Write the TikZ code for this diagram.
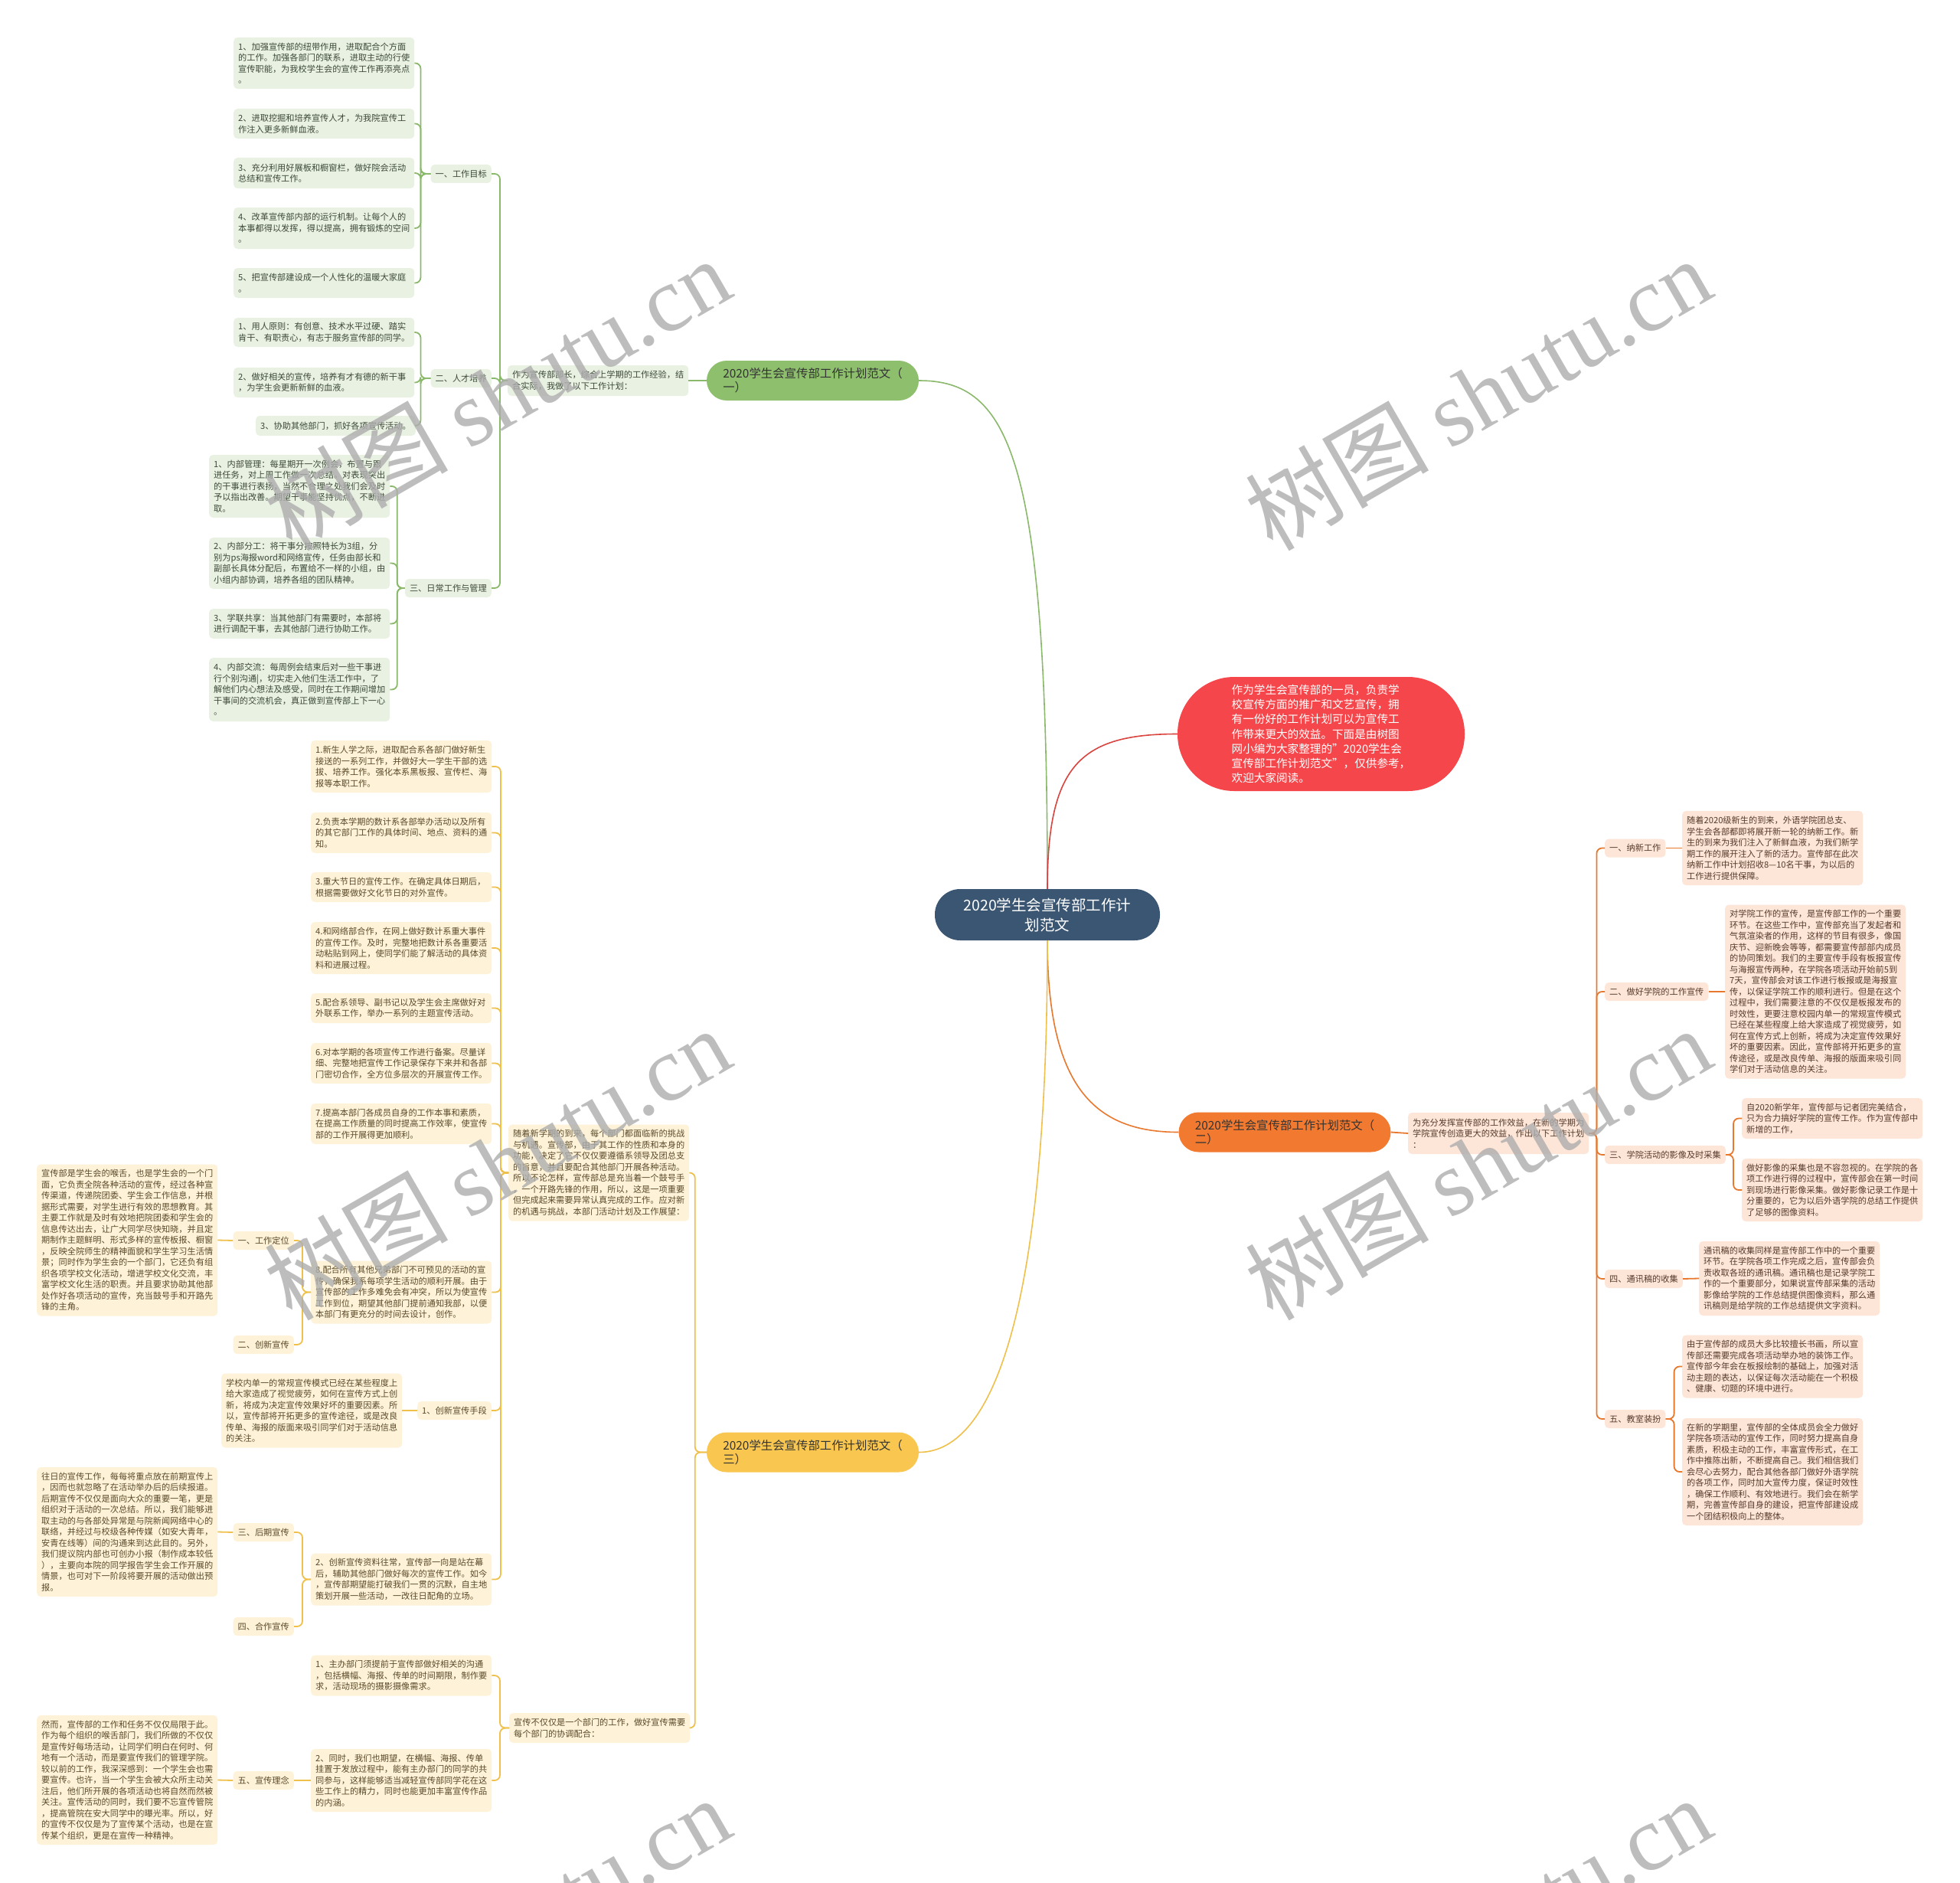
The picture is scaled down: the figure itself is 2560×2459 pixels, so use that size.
\documentclass[tikz,border=0pt]{standalone}
\usepackage{fontspec}
\setmainfont{Noto Sans CJK SC}
\newfontfamily\wmlatin{Liberation Serif}
\usetikzlibrary{calc}
\definecolor{cdark}{HTML}{3B5673}
\definecolor{cgreen}{HTML}{8DBF6D}
\definecolor{cgl}{HTML}{8AB96B}
\definecolor{cgfill}{HTML}{E9F2E2}
\definecolor{cgtext}{HTML}{3D4838}
\definecolor{cred}{HTML}{F5474B}
\definecolor{crl}{HTML}{D9443F}
\definecolor{corange}{HTML}{F27A30}
\definecolor{col}{HTML}{E9782F}
\definecolor{cofill}{HTML}{FDE5D7}
\definecolor{cotext}{HTML}{553B2C}
\definecolor{cyellow}{HTML}{F9C750}
\definecolor{cyl}{HTML}{EFC04A}
\definecolor{cyfill}{HTML}{FEF3D8}
\definecolor{cytext}{HTML}{5A4A2A}
\tikzset{
  box/.style={rounded corners=5pt, inner xsep=6pt, inner ysep=0pt, align=left,
    font=\fontsize{11.2pt}{14.5pt}\selectfont},
  gb/.style={box, fill=cgfill, text=cgtext},
  ob/.style={box, fill=cofill, text=cotext},
  yb/.style={box, fill=cyfill, text=cytext},
  wide/.style={text width=224pt},
  lab/.style={minimum height=24pt},
  pill/.style={rounded corners=26pt, minimum width=277pt, minimum height=52pt,
    align=left, inner sep=0pt, font=\fontsize{15.4pt}{18pt}\selectfont},
  gl/.style={draw=cgl, line width=1.8pt, rounded corners=7pt},
  ol/.style={draw=col, line width=1.8pt, rounded corners=7pt},
  yl/.style={draw=cyl, line width=1.8pt, rounded corners=7pt},
  wm/.style={rotate=30, text=black!32, opacity=0.8, inner sep=0pt,
    font=\fontsize{120pt}{120pt}\selectfont}
}
\begin{document}
\begin{tikzpicture}[x=1pt,y=-1pt]
\useasboundingbox (0,0) rectangle (2560,2459);
\fill[white] (0,0) rectangle (2560,2459);

% ---------- main nodes ----------
\node[fill=cdark, rounded corners=33pt, minimum width=294pt, minimum height=67pt,
  inner sep=0pt, text=white, align=center, font=\fontsize{19.5pt}{26pt}\selectfont]
  (c) at (1368,1194.5) {2020学生会宣传部工作计\\划范文};
\node[pill, fill=cgreen, text=black!80] (G) at (1061.5,497) {2020学生会宣传部工作计划范文（\\一）};
\node[pill, fill=corange, text=black!80] (O) at (1678,1478.5) {2020学生会宣传部工作计划范文（\\二）};
\node[pill, fill=cyellow, text=black!80] (Y) at (1061.5,1896.5) {2020学生会宣传部工作计划范文（\\三）};
\node[fill=cred, rounded corners=74pt, minimum width=375pt, minimum height=149pt,
  inner sep=0pt, text=white, align=left, font=\fontsize{14.6pt}{19.2pt}\selectfont]
  (R) at (1725.5,958.5) {作为学生会宣传部的一员，负责学\\校宣传方面的推广和文艺宣传，拥\\有一份好的工作计划可以为宣传工\\作带来更大的效益。下面是由树图\\网小编为大家整理的"2020学生会\\宣传部工作计划范文"，仅供参考，\\欢迎大家阅读。};

\draw[cgl, line width=1.6pt] (c.north) .. controls (1368,600) and (1320,497) .. (G.east);
\draw[crl, line width=1.6pt] (c.north) .. controls (1368,1000) and (1410,958.5) .. (R.west);
\draw[col, line width=1.6pt] (c.south) .. controls (1368,1420) and (1430,1478.5) .. (O.west);
\draw[cyl, line width=1.6pt] (c.south) .. controls (1368,1700) and (1300,1896.5) .. (Y.east);

% ---------- green subtree ----------
\node[gb, wide, anchor=west, minimum height=40pt] (g0) at (663,497) {作为宣传部部长，综合上学期的工作经验，结\\合实际，我做了以下工作计划：};
\node[gb, lab, anchor=east] (gA) at (642,227) {一、工作目标};
\node[gb, lab, anchor=east] (gB) at (642,494) {二、人才培养};
\node[gb, lab, anchor=east] (gC) at (642,768) {三、日常工作与管理};

\node[gb, wide, anchor=west, minimum height=67pt] (gA1) at (305,82.5) {1、加强宣传部的纽带作用，进取配合个方面\\的工作。加强各部门的联系，进取主动的行使\\宣传职能，为我校学生会的宣传工作再添亮点\\。};
\node[gb, wide, anchor=west, minimum height=39pt] (gA2) at (305,161.5) {2、进取挖掘和培养宣传人才，为我院宣传工\\作注入更多新鲜血液。};
\node[gb, wide, anchor=west, minimum height=40pt] (gA3) at (305,226) {3、充分利用好展板和橱窗栏，做好院会活动\\总结和宣传工作。};
\node[gb, wide, anchor=west, minimum height=54pt] (gA4) at (305,298) {4、改革宣传部内部的运行机制。让每个人的\\本事都得以发挥，得以提高，拥有锻炼的空间\\。};
\node[gb, wide, anchor=west, minimum height=39pt] (gA5) at (305,369.5) {5、把宣传部建设成一个人性化的温暖大家庭\\。};
\node[gb, wide, anchor=west, minimum height=38pt] (gB1) at (305,434) {1、用人原则：有创意、技术水平过硬、踏实\\肯干、有职责心，有志于服务宣传部的同学。};
\node[gb, wide, anchor=west, minimum height=39pt] (gB2) at (305,499.5) {2、做好相关的宣传，培养有才有德的新干事\\，为学生会更新新鲜的血液。};
\node[gb, lab, anchor=east, minimum height=26pt] (gB3) at (543,556) {3、协助其他部门，抓好各项宣传活动。};
\node[gb, wide, anchor=west, minimum height=82pt] (gC1) at (273,635) {1、内部管理：每星期开一次例会，布置与跟\\进任务，对上周工作做一次总结。对表现突出\\的干事进行表扬，当然不合理之处我们会及时\\予以指出改善。期望干事能坚持优点，不断进\\取。};
\node[gb, wide, anchor=west, minimum height=67pt] (gC2) at (273,735.5) {2、内部分工：将干事分按照特长为3组，分\\别为ps海报word和网络宣传，任务由部长和\\副部长具体分配后，布置给不一样的小组，由\\小组内部协调，培养各组的团队精神。};
\node[gb, wide, anchor=west, minimum height=39pt] (gC3) at (273,814.5) {3、学联共享：当其他部门有需要时，本部将\\进行调配干事，去其他部门进行协助工作。};
\node[gb, wide, anchor=west, minimum height=83pt] (gC4) at (273,900.5) {4、内部交流：每周例会结束后对一些干事进\\行个别沟通|，切实走入他们生活工作中，了\\解他们内心想法及感受，同时在工作期间增加\\干事间的交流机会，真正做到宣传部上下一心\\。};

\draw[gl] (G.west) -- (g0.east);
\foreach \k in {gA,gB,gC} \draw[gl] (g0.west) -- ++(-10,0) |- (\k.east);
\foreach \k in {gA1,gA2,gA3,gA4,gA5} \draw[gl] (gA.west) -- ++(-13,0) |- (\k.east);
\foreach \k in {gB1,gB2,gB3} \draw[gl] (gB.west) -- ++(-13,0) |- (\k.east);
\foreach \k in {gC1,gC2,gC3,gC4} \draw[gl] (gC.west) -- ++(-10,0) |- (\k.east);

% ---------- orange subtree ----------
\node[ob, wide, anchor=west, minimum height=54pt] (o0) at (1839,1480) {为充分发挥宣传部的工作效益，在新的学期为\\学院宣传创造更大的效益，作出以下工作计划\\：};
\node[ob, lab, anchor=west] (oA) at (2096,1107.5) {一、纳新工作};
\node[ob, lab, anchor=west] (oB) at (2096,1295) {二、做好学院的工作宣传};
\node[ob, lab, anchor=west] (oC) at (2096,1508) {三、学院活动的影像及时采集};
\node[ob, lab, anchor=west] (oD) at (2096,1670) {四、通讯稿的收集};
\node[ob, lab, anchor=west] (oE) at (2096,1853) {五、教室装扮};

\node[ob, wide, anchor=west, minimum height=97pt] (oAt) at (2197,1107.5) {随着2020级新生的到来，外语学院团总支、\\学生会各部都即将展开新一轮的纳新工作。新\\生的到来为我们注入了新鲜血液，为我们新学\\期工作的展开注入了新的活力。宣传部在此次\\纳新工作中计划招收8—10名干事，为以后的\\工作进行提供保障。};
\node[ob, wide, anchor=west, minimum height=227pt] (oBt) at (2253,1295) {对学院工作的宣传，是宣传部工作的一个重要\\环节。在这些工作中，宣传部充当了发起者和\\气氛渲染者的作用，这样的节目有很多，像国\\庆节、迎新晚会等等，都需要宣传部部内成员\\的协同策划。我们的主要宣传手段有板报宣传\\与海报宣传两种，在学院各项活动开始前5到\\7天，宣传部会对该工作进行板报或是海报宣\\传，以保证学院工作的顺利进行。但是在这个\\过程中，我们需要注意的不仅仅是板报发布的\\时效性，更要注意校园内单一的常规宣传模式\\已经在某些程度上给大家造成了视觉疲劳，如\\何在宣传方式上创新，将成为决定宣传效果好\\坏的重要因素。因此，宣传部将开拓更多的宣\\传途径，或是改良传单、海报的版面来吸引同\\学们对于活动信息的关注。};
\node[ob, wide, anchor=west, minimum height=53pt] (oC1) at (2275,1460.5) {自2020新学年，宣传部与记者团完美结合，\\只为合力搞好学院的宣传工作。作为宣传部中\\新增的工作，};
\node[ob, wide, anchor=west, minimum height=82pt] (oC2) at (2275,1554) {做好影像的采集也是不容忽视的。在学院的各\\项工作进行得的过程中，宣传部会在第一时间\\到现场进行影像采集。做好影像记录工作是十\\分重要的，它为以后外语学院的总结工作提供\\了足够的图像资料。};
\node[ob, wide, anchor=west, minimum height=97pt] (oDt) at (2219,1669.5) {通讯稿的收集同样是宣传部工作中的一个重要\\环节。在学院各项工作完成之后，宣传部会负\\责收取各班的通讯稿。通讯稿也是记录学院工\\作的一个重要部分，如果说宣传部采集的活动\\影像给学院的工作总结提供图像资料，那么通\\讯稿则是给学院的工作总结提供文字资料。};
\node[ob, wide, anchor=west, minimum height=82pt] (oE1) at (2197,1784.5) {由于宣传部的成员大多比较擅长书画，所以宣\\传部还需要完成各项活动举办地的装饰工作。\\宣传部今年会在板报绘制的基础上，加强对活\\动主题的表达，以保证每次活动能在一个积极\\、健康、切题的环境中进行。};
\node[ob, wide, anchor=west, minimum height=140pt] (oE2) at (2197,1922) {在新的学期里，宣传部的全体成员会全力做好\\学院各项活动的宣传工作，同时努力提高自身\\素质，积极主动的工作，丰富宣传形式，在工\\作中推陈出新，不断提高自己。我们相信我们\\会尽心去努力，配合其他各部门做好外语学院\\的各项工作，同时加大宣传力度，保证时效性\\，确保工作顺利、有效地进行。我们会在新学\\期，完善宣传部自身的建设，把宣传部建设成\\一个团结积极向上的整体。};

\draw[ol] (O.east) -- (o0.west);
\foreach \k in {oA,oB,oC,oD,oE} \draw[ol] (o0.east) -- ++(10,0) |- (\k.west);
\draw[ol] (oA.east) -- (oAt.west);
\draw[ol] (oB.east) -- (oBt.west);
\draw[ol] (oD.east) -- (oDt.west);
\foreach \k in {oC1,oC2} \draw[ol] (oC.east) -- ++(10,0) |- (\k.west);
\foreach \k in {oE1,oE2} \draw[ol] (oE.east) -- ++(11,0) |- (\k.west);

% ---------- yellow subtree ----------
\node[yb, wide, anchor=west, minimum height=126pt] (y0) at (664,1531.5) {随着新学期的到来，每个部门都面临新的挑战\\与机遇。宣传部，由于其工作的性质和本身的\\功能，决定了它不仅仅要遵循系领导及团总支\\的旨意，并且要配合其他部门开展各种活动。\\所以不论怎样，宣传部总是充当着一个鼓号手\\，一个开路先锋的作用，所以，这是一项重要\\但完成起来需要异常认真完成的工作。应对新\\的机遇与挑战，本部门活动计划及工作展望：};
\node[yb, wide, anchor=west, minimum height=68pt] (y1) at (406,1001) {1.新生人学之际，进取配合系各部门做好新生\\接送的一系列工作，并做好大一学生干部的选\\拔、培养工作。强化本系黑板报、宣传栏、海\\报等本职工作。};
\node[yb, wide, anchor=west, minimum height=53pt] (y2) at (406,1087.5) {2.负责本学期的数计系各部举办活动以及所有\\的其它部门工作的具体时间、地点、资料的通\\知。};
\node[yb, wide, anchor=west, minimum height=39pt] (y3) at (406,1158.5) {3.重大节日的宣传工作。在确定具体日期后，\\根据需要做好文化节日的对外宣传。};
\node[yb, wide, anchor=west, minimum height=68pt] (y4) at (406,1238) {4.和网络部合作，在网上做好数计系重大事件\\的宣传工作。及时，完整地把数计系各重要活\\动粘贴到网上，使同学们能了解活动的具体资\\料和进展过程。};
\node[yb, wide, anchor=west, minimum height=39pt] (y5) at (406,1316.5) {5.配合系领导、副书记以及学生会主席做好对\\外联系工作，举办一系列的主题宣传活动。};
\node[yb, wide, anchor=west, minimum height=53pt] (y6) at (406,1388.5) {6.对本学期的各项宣传工作进行备案。尽量详\\细、完整地把宣传工作记录保存下来并和各部\\门密切合作，全方位多层次的开展宣传工作。};
\node[yb, wide, anchor=west, minimum height=53pt] (y7) at (406,1467.5) {7.提高本部门各成员自身的工作本事和素质，\\在提高工作质量的同时提高工作效率，使宣传\\部的工作开展得更加顺利。};
\node[yb, wide, anchor=west, minimum height=82pt] (y8) at (406,1687.5) {8.配合所有其他兄弟部门不可预见的活动的宣\\传，确保我系每项学生活动的顺利开展。由于\\宣传部的工作多难免会有冲突，所以为使宣传\\工作到位，期望其他部门提前通知我部，以便\\本部门有更充分的时间去设计，创作。};
\node[yb, lab, anchor=east] (yS1) at (642,1842) {1、创新宣传手段};
\node[yb, wide, anchor=west, minimum height=68pt] (yS2) at (406,2062.5) {2、创新宣传资料往常，宣传部一向是站在幕\\后，辅助其他部门做好每次的宣传工作。如今\\，宣传部期望能打破我们一贯的沉默，自主地\\策划开展一些活动，一改往日配角的立场。};

\node[yb, lab, anchor=east] (yA) at (384,1620) {一、工作定位};
\node[yb, lab, anchor=east] (yB) at (384,1756) {二、创新宣传};
\node[yb, lab, anchor=east] (yC) at (384,2001) {三、后期宣传};
\node[yb, lab, anchor=east] (yD) at (384,2124) {四、合作宣传};
\node[yb, lab, anchor=east] (yE) at (384,2325) {五、宣传理念};

\node[yb, wide, anchor=west, minimum height=198pt] (yAt) at (48,1619.5) {宣传部是学生会的喉舌，也是学生会的一个门\\面，它负责全院各种活动的宣传，经过各种宣\\传渠道，传递院团委、学生会工作信息，并根\\据形式需要，对学生进行有效的思想教育。其\\主要工作就是及时有效地把院团委和学生会的\\信息传达出去，让广大同学尽快知晓，并且定\\期制作主题鲜明、形式多样的宣传板报、橱窗\\，反映全院师生的精神面貌和学生学习生活情\\景；同时作为学生会的一个部门，它还负有组\\织各项学校文化活动，增进学校文化交流，丰\\富学校文化生活的职责。并且要求协助其他部\\处作好各项活动的宣传，充当鼓号手和开路先\\锋的主角。};
\node[yb, wide, anchor=west, minimum height=97pt] (yT) at (289,1842) {学校内单一的常规宣传模式已经在某些程度上\\给大家造成了视觉疲劳，如何在宣传方式上创\\新，将成为决定宣传效果好坏的重要因素。所\\以，宣传部将开拓更多的宣传途径，或是改良\\传单、海报的版面来吸引同学们对于活动信息\\的关注。};
\node[yb, wide, anchor=west, minimum height=169pt] (yCt) at (48,2000.5) {往日的宣传工作，每每将重点放在前期宣传上\\，因而也就忽略了在活动举办后的后续报道。\\后期宣传不仅仅是面向大众的重要一笔，更是\\组织对于活动的一次总结。所以，我们能够进\\取主动的与各部处异常是与院新闻网络中心的\\联络，并经过与校级各种传媒（如安大青年，\\安青在线等）间的沟通来到达此目的。另外，\\我们提议院内部也可创办小报（制作成本较低\\），主要向本院的同学报告学生会工作开展的\\情景，也可对下一阶段将要开展的活动做出预\\报。};

\node[yb, wide, anchor=west, minimum height=39pt] (yP) at (665,2256.5) {宣传不仅仅是一个部门的工作，做好宣传需要\\每个部门的协调配合：};
\node[yb, wide, anchor=west, minimum height=53pt] (yP1) at (406,2188) {1、主办部门须提前于宣传部做好相关的沟通\\，包括横幅、海报、传单的时间期限，制作要\\求，活动现场的摄影摄像需求。};
\node[yb, wide, anchor=west, minimum height=82pt] (yP2) at (406,2325) {2、同时，我们也期望，在横幅、海报、传单\\挂置于发放过程中，能有主办部门的同学的共\\同参与，这样能够适当减轻宣传部同学花在这\\些工作上的精力，同时也能更加丰富宣传作品\\的内涵。};
\node[yb, wide, anchor=west, minimum height=169pt] (yEt) at (48,2324.5) {然而，宣传部的工作和任务不仅仅局限于此。\\作为每个组织的喉舌部门，我们所做的不仅仅\\是宣传好每场活动，让同学们明白在何时、何\\地有一个活动，而是要宣传我们的管理学院。\\较以前的工作，我深深感到：一个学生会也需\\要宣传。也许，当一个学生会被大众所主动关\\注后，他们所开展的各项活动也将自然而然被\\关注。宣传活动的同时，我们要不忘宣传管院\\，提高管院在安大同学中的曝光率。所以，好\\的宣传不仅仅是为了宣传某个活动，也是在宣\\传某个组织，更是在宣传一种精神。};

\foreach \k in {y0,yP} \draw[yl] (Y.west) -- ++(-15,0) |- (\k.east);
\foreach \k in {y1,y2,y3,y4,y5,y6,y7,y8,yS1,yS2} \draw[yl] (y0.west) -- ++(-10,0) |- (\k.east);
\foreach \k in {yA,yB} \draw[yl] (y8.west) -- ++(-11,0) |- (\k.east);
\foreach \k in {yC,yD} \draw[yl] (yS2.west) -- ++(-11,0) |- (\k.east);
\foreach \k in {yP1,yP2} \draw[yl] (yP.west) -- ++(-12,0) |- (\k.east);
\draw[yl] (yA.west) -- (yAt.east);
\draw[yl] (yS1.west) -- (yT.east);
\draw[yl] (yC.west) -- (yCt.east);
\draw[yl] (yP2.west) -- (yE.east);
\draw[yl] (yE.west) -- (yEt.east);

% ---------- watermarks ----------
\begin{scope}
\clip (0,0) rectangle (2560,2459);
\node[wm] (wm1) at (649,514) {树图 {\wmlatin shutu.cn}};
\node[wm] (wm2) at (1930,514) {树图 {\wmlatin shutu.cn}};
\node[wm] (wm3) at (649,1519) {树图 {\wmlatin shutu.cn}};
\node[wm] (wm4) at (1930,1519) {树图 {\wmlatin shutu.cn}};
\node[wm] (wm5) at (649,2524) {树图 {\wmlatin shutu.cn}};
\node[wm] (wm6) at (1930,2524) {树图 {\wmlatin shutu.cn}};
\end{scope}
\end{tikzpicture}
\end{document}
